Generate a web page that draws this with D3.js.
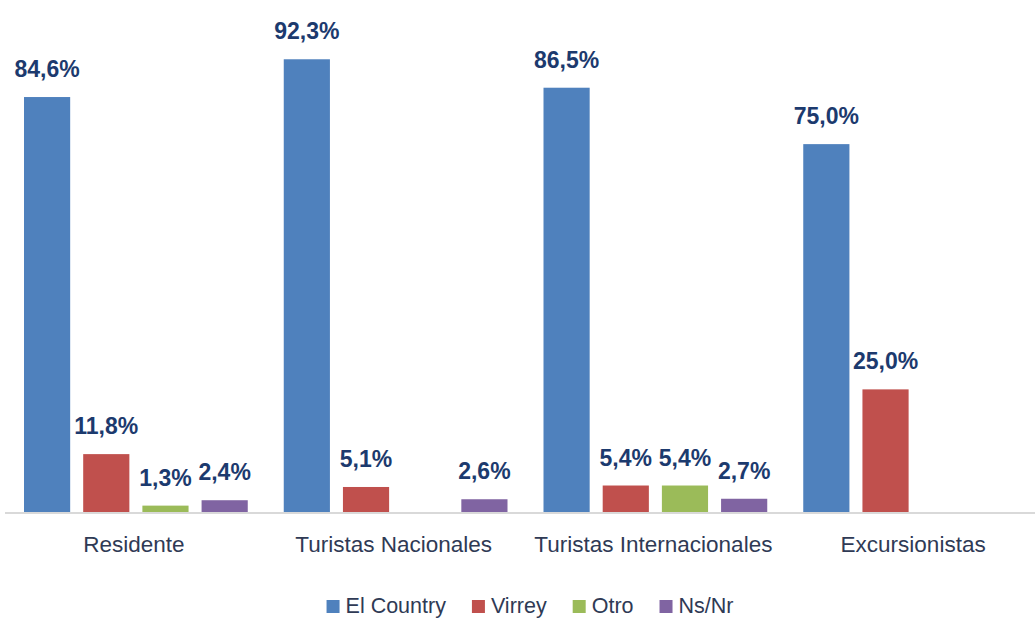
<!DOCTYPE html>
<html>
<head>
<meta charset="utf-8">
<script src="https://cdn.jsdelivr.net/npm/d3@7"></script>
<style>
  html, body { margin: 0; padding: 0; background: #fff; }
  #chart { width: 1035px; height: 619px; }
</style>
</head>
<body>
<div id="chart"></div>
<script>
// categories and series
const groups = ["Residente", "Turistas Nacionales", "Turistas Internacionales", "Excursionistas"];
const series = ["El Country", "Virrey", "Otro", "Ns/Nr"];
const colors = ["#4f81bd", "#c0504d", "#9bbb59", "#8064a2"];

// values per series (null = no bar)
const elCountry = [84.6, 92.3, 86.5, 75.0];
const virrey    = [11.8, 5.1, 5.4, 25.0];
const otro      = [1.3, null, 5.4, null];
const nsnr      = [2.4, 2.6, 2.7, null];
const values = [elCountry, virrey, otro, nsnr];

function drawChart() {
    const container = document.getElementById("chart");
    const width = 1035, height = 619;
    const baseY = 512;

    const svg = d3.select(container).append("svg")
        .attr("width", width).attr("height", height);

    const x0 = d3.scaleBand().domain(groups).range([6, 1045]);
    const x1 = d3.scaleBand().domain(series)
        .range([18, x0.bandwidth() - 18]).paddingInner(0.22);
    const y = d3.scaleLinear().domain([0, 100]).range([baseY, 21.5]);

    const data = [];
    groups.forEach((g, gi) => {
        series.forEach((s, si) => {
            const v = values[si][gi];
            if (v != null) data.push({ group: g, series: s, si, value: v });
        });
    });

    // baseline
    svg.append("line")
        .attr("x1", 5).attr("x2", width)
        .attr("y1", baseY + 1).attr("y2", baseY + 1)
        .style("stroke", "#d9d9d9").style("stroke-width", 2);

    svg.selectAll("rect.bar").data(data).join("rect").attr("class", "bar")
        .attr("x", d => x0(d.group) + x1(d.series))
        .attr("y", d => y(d.value))
        .attr("width", x1.bandwidth())
        .attr("height", d => baseY - y(d.value))
        .attr("fill", d => colors[d.si]);

    svg.selectAll("text.val").data(data).join("text").attr("class", "val")
        .attr("x", d => x0(d.group) + x1(d.series) + x1.bandwidth() / 2)
        .attr("y", d => y(d.value) - 20)
        .attr("text-anchor", "middle")
        .style("font-family", "'Liberation Sans', Arial, sans-serif")
        .style("font-weight", "bold").style("font-size", "23px")
        .style("fill", "#1c3a6e")
        .text(d => d.value.toFixed(1).replace(".", ",") + "%");

    // category axis labels
    svg.selectAll("text.cat").data(groups).join("text").attr("class", "cat")
        .attr("x", d => x0(d) + x0.bandwidth() / 2 - 2)
        .attr("y", baseY + 40)
        .attr("text-anchor", "middle")
        .style("font-family", "'Liberation Sans', Arial, sans-serif")
        .style("font-size", "22.5px").style("fill", "#2f3a55")
        .text(d => d);

    // legend
    const legend = svg.append("g");
    let lx = 0;
    series.forEach((s, i) => {
        const item = legend.append("g").attr("transform", `translate(${lx},0)`);
        item.append("rect").attr("x", 0).attr("y", -13)
            .attr("width", 13).attr("height", 13).attr("fill", colors[i]);
        const t = item.append("text").attr("x", 19).attr("y", 0)
            .style("font-family", "'Liberation Sans', Arial, sans-serif")
            .style("font-size", "21.5px").style("fill", "#2f3a55")
            .text(s);
        lx += 19 + t.node().getComputedTextLength() + 26;
    });
    const lw = lx - 26;
    legend.attr("transform", `translate(${530 - lw / 2},613)`);
}

drawChart();
</script>
</body>
</html>
